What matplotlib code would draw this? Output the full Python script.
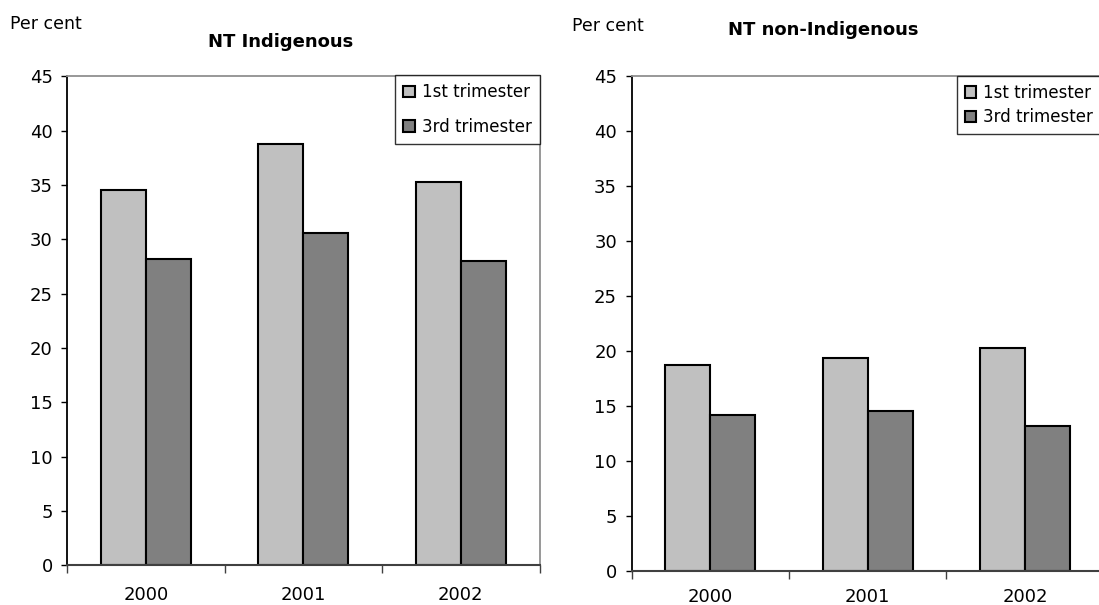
import matplotlib
matplotlib.use("Agg")
import matplotlib.pyplot as plt
import numpy as np

plt.rcParams['font.family'] = ['DejaVu Sans']

years = ["2000", "2001", "2002"]
series_names = ["1st trimester", "3rd trimester"]
indigenous_1st = [34.5, 38.8, 35.3]
indigenous_3rd = [28.2, 30.6, 28.0]
non_indigenous_1st = [18.7, 19.4, 20.3]
non_indigenous_3rd = [14.2, 14.5, 13.2]
yticks = [0, 5, 10, 15, 20, 25, 30, 35, 40, 45]

light = "#C0C0C0"
dark = "#808080"
W, H = 1099, 605

fig = plt.figure(figsize=(W / 100, H / 100), dpi=100)


def px_axes(x0, y_top, x1, y_bottom):
    return fig.add_axes([x0 / W, 1 - y_bottom / H, (x1 - x0) / W, (y_bottom - y_top) / H])


def draw_panel(ax, first, third, label_pad):
    x = np.arange(len(years))
    bw = 0.286
    ax.bar(x - bw / 2, first, bw, color=light, edgecolor="black", linewidth=1.5,
           label=series_names[0])
    ax.bar(x + bw / 2, third, bw, color=dark, edgecolor="black", linewidth=1.5,
           label=series_names[1])
    ax.set_xlim(-0.5, len(years) - 0.5)
    ax.set_ylim(0, 45)
    ax.set_yticks(yticks)
    ax.set_yticklabels([str(v) for v in yticks], fontsize=13)
    ax.tick_params(axis="y", direction="out", length=4.5, width=1, pad=6)
    # category labels centred, tick marks between categories
    ax.set_xticks(x)
    ax.set_xticklabels(years, fontsize=13)
    ax.tick_params(axis="x", which="major", length=0, pad=label_pad)
    ax.set_xticks(np.arange(-0.5, len(years)), minor=True)
    ax.tick_params(axis="x", which="minor", direction="out", length=6, width=1,
                   color="#404040")
    ax.spines["left"].set_color("black")
    ax.spines["left"].set_linewidth(1.3)
    ax.spines["bottom"].set_color("#404040")
    ax.spines["bottom"].set_linewidth(1.5)
    for s in ("top", "right"):
        ax.spines[s].set_color("#909090")
        ax.spines[s].set_linewidth(1.3)


ax1 = px_axes(67.3, 76.3, 539.5, 565.3)
draw_panel(ax1, indigenous_1st, indigenous_3rd, 15)
ax2 = px_axes(631.7, 76.3, 1103.7, 570.7)
draw_panel(ax2, non_indigenous_1st, non_indigenous_3rd, 12.5)

leg1 = ax1.legend(loc="upper left", bbox_to_anchor=(395 / W, 1 - 75 / H),
                  bbox_transform=fig.transFigure, borderaxespad=0, fontsize=12,
                  frameon=True, fancybox=False, edgecolor="black",
                  handlelength=0.7, handleheight=0.7, handletextpad=0.4,
                  labelspacing=1.0, borderpad=0.5)
leg1.get_frame().set_linewidth(1.0)

leg2 = ax2.legend(loc="upper left", bbox_to_anchor=(957 / W, 1 - 76 / H),
                  bbox_transform=fig.transFigure, borderaxespad=0, fontsize=12,
                  frameon=True, fancybox=False, edgecolor="black",
                  handlelength=0.7, handleheight=0.7, handletextpad=0.4,
                  labelspacing=0.4, borderpad=0.45)
leg2.get_frame().set_linewidth(1.0)

fig.text(10 / W, 1 - 24 / H, "Per cent", fontsize=12.5, ha="left", va="center")
fig.text(281 / W, 1 - 42 / H, "NT Indigenous", fontsize=13, fontweight="bold",
         ha="center", va="center")
fig.text(572 / W, 1 - 26 / H, "Per cent", fontsize=12.5, ha="left", va="center")
fig.text(823 / W, 1 - 30 / H, "NT non-Indigenous", fontsize=13, fontweight="bold",
         ha="center", va="center")

fig.savefig("out.png", dpi=100)
